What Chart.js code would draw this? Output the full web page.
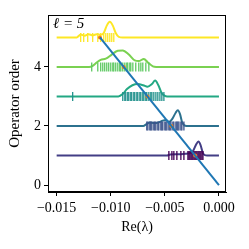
<!DOCTYPE html>
<html>
<head>
<meta charset="utf-8">
<script src="https://cdn.jsdelivr.net/npm/chart.js@4.4.0/dist/chart.umd.min.js"></script>
<style>
  html, body { margin: 0; padding: 0; background: #fff; }
</style>
</head>
<body>
<canvas id="ridgeChart" width="249" height="249"></canvas>
<script>
// operator orders (one ridge per order)
var orders = [1, 2, 3, 4, 5]
var lineColors = ['#433e85', '#2c718e', '#23a883', '#7ad151', '#fde725']
var rugColors = ['#440154', '#3b528b', '#21918c', '#5ec962', '#fde725']

var xTicks = [-0.015, -0.010, -0.005, 0.000]
var yTicks = [0, 2, 4]

// density curves, [Re(lambda), height above the ridge baseline]
var kde1 = [[-0.015, 0], [-0.0048, 0], [-0.0045, 0.03], [-0.0040, 0.04], [-0.0035, 0.04], [-0.0030, 0.06],
            [-0.0027, 0.08], [-0.0024, 0.15], [-0.0021, 0.38], [-0.0019, 0.47], [-0.0017, 0.35],
            [-0.0015, 0.10], [-0.0013, 0.01], [-0.0011, 0], [0, 0]]
var kde2 = [[-0.015, 0], [-0.0070, 0], [-0.0067, 0.06], [-0.0064, 0.12], [-0.0060, 0.10], [-0.0056, 0.12],
            [-0.0052, 0.18], [-0.0049, 0.20], [-0.0046, 0.14], [-0.0043, 0.25], [-0.0040, 0.45],
            [-0.0038, 0.53], [-0.0036, 0.40], [-0.0034, 0.12], [-0.0032, 0.02], [-0.0030, 0], [0, 0]]
var kde3 = [[-0.015, 0], [-0.0093, 0], [-0.0089, 0.08], [-0.0085, 0.25], [-0.0080, 0.38], [-0.0075, 0.42],
            [-0.0070, 0.38], [-0.0066, 0.33], [-0.0062, 0.42], [-0.0059, 0.54], [-0.0056, 0.38],
            [-0.0053, 0.12], [-0.0050, 0.02], [-0.0048, 0], [0, 0]]
var kde4 = [[-0.015, 0], [-0.0120, 0], [-0.01167, 0.04], [-0.0113, 0.15], [-0.01093, 0.24], [-0.01046, 0.28],
            [-0.00991, 0.42], [-0.00935, 0.55], [-0.00889, 0.56], [-0.00833, 0.42], [-0.00778, 0.22],
            [-0.00741, 0.20], [-0.00694, 0.27], [-0.00657, 0.15], [-0.00611, 0.02], [-0.0058, 0], [0, 0]]
var kde5 = [[-0.015, 0], [-0.01315, 0], [-0.01278, 0.10], [-0.01241, 0.06], [-0.01204, 0.11], [-0.01167, 0.07],
            [-0.0113, 0.11], [-0.01093, 0.09], [-0.01065, 0.15], [-0.01037, 0.40], [-0.01009, 0.53],
            [-0.00981, 0.40], [-0.00954, 0.15], [-0.00926, 0.02], [-0.0089, 0], [0, 0]]

// individual eigenvalues (rug marks)
var rug1 = [-0.00463, -0.00435, -0.00417, -0.00389, -0.00352, -0.00324, -0.00287, -0.00278, -0.00269,
            -0.00259, -0.00250, -0.00241, -0.00231, -0.00222, -0.00213, -0.00204, -0.00194, -0.00185,
            -0.00176, -0.00167, -0.00157, -0.00148]
var rug2 = [-0.00667, -0.00657, -0.00639, -0.00630, -0.00620, -0.00602, -0.00593, -0.00583, -0.00565,
            -0.00556, -0.00537, -0.00528, -0.00519, -0.00500, -0.00491, -0.00481, -0.00463, -0.00454,
            -0.00444, -0.00426, -0.00417, -0.00398, -0.00389, -0.00380, -0.00370, -0.00352, -0.00343, -0.00324]
var rug3 = [-0.01352, -0.00889, -0.00870, -0.00861, -0.00843, -0.00833, -0.00815, -0.00806, -0.00787,
            -0.00778, -0.00759, -0.00750, -0.00731, -0.00722, -0.00704, -0.00694, -0.00676, -0.00667,
            -0.00648, -0.00630, -0.00620, -0.00602, -0.00583, -0.00565, -0.00546, -0.00528, -0.00509]
var rug4 = [-0.01176, -0.01120, -0.01093, -0.01074, -0.01056, -0.01037, -0.01019, -0.01000, -0.00981,
            -0.00972, -0.00954, -0.00935, -0.00917, -0.00907, -0.00889, -0.00870, -0.00852, -0.00843,
            -0.00824, -0.00815, -0.00796, -0.00769, -0.00741, -0.00722, -0.00704, -0.00676, -0.00648]
var rug5 = [-0.01278, -0.01250, -0.01213, -0.01167, -0.01120, -0.01093, -0.01065, -0.01046, -0.01028,
            -0.01009, -0.00991, -0.00972]

// straight line and its marks
var fitX = [-0.011, 0.000]
var fitY = [5, 0]
var markX = [-0.0022, -0.0044, -0.0066, -0.0088, -0.0110]
var markY = [1, 2, 3, 4, 5]

var kdes = [kde1, kde2, kde3, kde4, kde5]
var rugs = [rug1, rug2, rug3, rug4, rug5]
var FONT = 'Liberation Serif'

var datasets = []
orders.forEach(function(k, i) {
  datasets.push({
    data: kdes[i].map(function(p) { return {x: p[0], y: k + p[1]} }),
    showLine: true,
    borderColor: lineColors[i],
    borderWidth: 2,
    pointRadius: 0,
    tension: 0.3,
    cubicInterpolationMode: 'monotone',
    order: 4
  })
  datasets.push({
    data: rugs[i].map(function(v) { return {x: v, y: k} }),
    pointStyle: 'line',
    rotation: 90,
    pointRadius: 4.5,
    pointBorderWidth: 1.3,
    borderColor: rugColors[i],
    backgroundColor: rugColors[i],
    order: 3
  })
})
datasets.push({
  data: markX.map(function(v, i) { return {x: v, y: markY[i]} }),
  pointRadius: 2,
  pointBorderWidth: 0,
  backgroundColor: '#ff7f0e',
  borderColor: '#ff7f0e',
  order: 2
})
datasets.push({
  data: fitX.map(function(v, i) { return {x: v, y: fitY[i]} }),
  showLine: true,
  borderColor: '#1f77b4',
  borderWidth: 2,
  pointRadius: 0,
  order: 1
})

var framePlugin = {
  id: 'frame',
  afterDraw: function(chart) {
    var ctx = chart.ctx, a = chart.chartArea
    ctx.save()
    ctx.strokeStyle = '#000'
    ctx.lineWidth = 1
    ctx.strokeRect(a.left + 0.5, a.top + 0.5, a.right - a.left - 1, a.bottom - a.top - 1)
    ctx.fillStyle = '#000'
    ctx.font = 'italic 15px ' + FONT
    ctx.textBaseline = 'alphabetic'
    ctx.fillText('\u2113 = 5', a.left + 5, a.top + 13)
    ctx.restore()
  }
}

new Chart(document.getElementById('ridgeChart'), {
  type: 'scatter',
  data: {datasets: datasets},
  plugins: [framePlugin],
  options: {
    responsive: false,
    animation: false,
    layout: {padding: {left: 0, right: 23, top: 15, bottom: 0}},
    plugins: {legend: {display: false}, tooltip: {enabled: false}},
    scales: {
      x: {
        type: 'linear',
        min: -0.0158,
        max: 0.00065,
        afterBuildTicks: function(scale) { scale.ticks = xTicks.map(function(v) { return {value: v} }) },
        afterFit: function(scale) { scale.height = 57 },
        ticks: {
          color: '#000',
          font: {family: FONT, size: 14},
          padding: 4,
          maxRotation: 0,
          callback: function(v) { return (v < 0 ? '\u2212' : '') + Math.abs(v).toFixed(3) }
        },
        grid: {display: true, drawOnChartArea: false, drawTicks: true, tickLength: 4, color: '#000'},
        border: {display: true, color: '#000'},
        title: {display: true, text: 'Re(\u03bb)', color: '#000', font: {family: FONT, size: 14}, padding: {top: 0, bottom: 13}}
      },
      y: {
        type: 'linear',
        min: -0.237,
        max: 5.76,
        afterBuildTicks: function(scale) { scale.ticks = yTicks.map(function(v) { return {value: v} }) },
        afterFit: function(scale) { scale.width = 48 },
        ticks: {color: '#000', font: {family: FONT, size: 14}, padding: 3},
        grid: {display: true, drawOnChartArea: false, drawTicks: true, tickLength: 4, color: '#000'},
        border: {display: true, color: '#000'},
        title: {display: true, text: 'Operator order', color: '#000', font: {family: FONT, size: 15}, padding: {top: 6, bottom: 0}}
      }
    }
  }
})
</script>
</body>
</html>
